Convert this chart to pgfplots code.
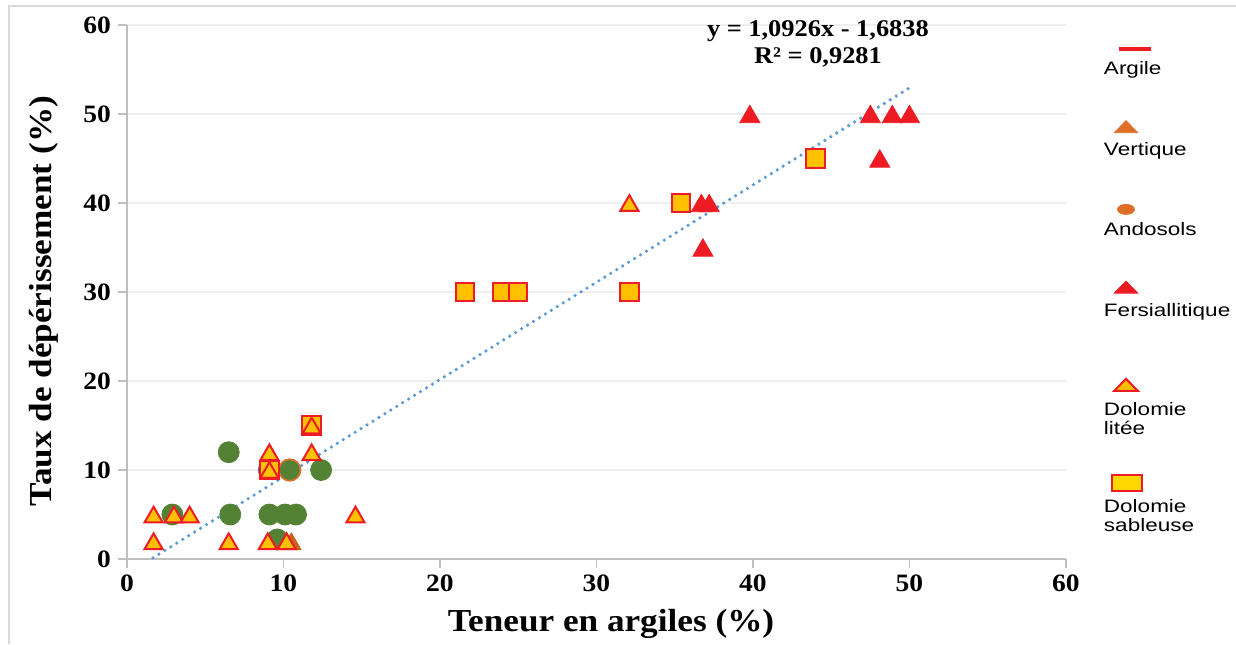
\documentclass[border=0pt]{standalone}
\usepackage{fontspec}
\setmainfont{Liberation Serif}[FakeStretch=1.1]
\newfontfamily\legfont{Liberation Sans}[FakeStretch=1.25]
\usepackage{pgfplots}
\pgfplotsset{compat=1.18}
\definecolor{redm}{RGB}{237,28,36}
\definecolor{gold}{RGB}{255,192,0}
\definecolor{goldleg}{RGB}{255,215,0}
\definecolor{greenm}{RGB}{84,130,53}
\definecolor{orangem}{RGB}{222,110,40}
\definecolor{brownm}{RGB}{197,100,30}
\definecolor{bluem}{RGB}{68,114,196}
\definecolor{trend}{RGB}{91,155,213}
\definecolor{axgray}{RGB}{191,191,191}
\definecolor{gridgray}{RGB}{238,238,238}
\definecolor{framegray}{RGB}{217,217,217}
\begin{document}
\begin{tikzpicture}
\begin{axis}[
 name=ax, scale only axis, width=469.5pt, height=267pt,
 xmin=0, xmax=60, ymin=0, ymax=60,
 xtick={0,10,...,60}, ytick={0,10,...,60},
 axis x line*=bottom, axis y line*=left,
 axis line style={axgray, line width=0.9pt},
 tick style={axgray, line width=0.9pt},
 tick align=outside, major tick length=4.5pt,
 ymajorgrids, grid style={gridgray, line width=0.7pt},
 /pgf/number format/assume math mode=true,
 tick label style={font=\fontsize{12.5}{14}\selectfont\bfseries},
 xlabel={Teneur en argiles (\%)}, ylabel={Taux de dépérissement (\%)},
 every axis x label/.style={at={(axis description cs:0.5155,0)}, yshift=-32.5pt, anchor=center, font=\fontsize{16}{18}\selectfont\bfseries},
 every axis y label/.style={at={(axis description cs:0,0.483)}, xshift=-41.5pt, rotate=90, anchor=center, font=\fontsize{16}{18}\selectfont\bfseries},
 clip=false,
 legend style={draw=none, fill=none, at={(1,1)}, anchor=north west, xshift=17pt, yshift=-17pt,
   inner sep=0pt, outer sep=0pt, row sep=32pt, column sep=0pt,
   cells={anchor=north west}, nodes={inner sep=0pt, outer sep=0pt},
   font=\legfont\fontsize{9}{9.5}\selectfont},
]
% ---- legend entries ----
\addlegendimage{redm, line width=2pt, legend image code/.code={\path (0pt,0pt); \draw[overlay] (8.5pt,6pt) -- (24.5pt,6pt);}}
\addlegendentry{\strut Argile}
\addlegendimage{only marks, mark=triangle*, mark size=4pt, color=orangem, mark options={xscale=1.7},
  legend image code/.code={\path (0pt,0pt); \draw[overlay] plot coordinates {(12pt,6.5pt)};}}
\addlegendentry{\strut Vertique}
\addlegendimage{only marks, mark=*, mark size=2.5pt, color=orangem, mark options={xscale=1.7},
  legend image code/.code={\path (0pt,0pt); \draw[overlay] plot coordinates {(12pt,6.5pt)};}}
\addlegendentry{\strut Andosols}
\addlegendimage{only marks, mark=triangle*, mark size=4pt, color=redm, mark options={xscale=1.7},
  legend image code/.code={\path (0pt,0pt); \draw[overlay] plot coordinates {(12pt,7pt)};}}
\addlegendentry{\strut Fersiallitique}
\addlegendimage{only marks, mark=triangle*, mark size=4pt, mark options={xscale=1.7, fill=gold, draw=redm, line width=1pt},
  legend image code/.code={\path (0pt,0pt); \draw[overlay] plot coordinates {(12pt,-1.5pt)};}}
\addlegendentry{\strut\raisebox{-9pt}[0pt][0pt]{\parbox[t]{75pt}{\strut Dolomie\\\strut litée}}}
\addlegendimage{only marks, mark=square*, mark size=4pt, mark options={xscale=1.9, fill=goldleg, draw=redm, line width=1pt},
  legend image code/.code={\path (0pt,0pt); \draw[overlay] plot coordinates {(12.5pt,-9.25pt)};}}
\addlegendentry{\strut\raisebox{-17.25pt}[0pt][0pt]{\parbox[t]{75pt}{\strut Dolomie\\\strut sableuse}}}
% ---- data ----
% Vertique
\addplot[only marks, mark=triangle*, mark size=5.6pt, color=brownm, mark options={yshift=-1.4pt}, forget plot] coordinates {(10.5,2)};
% Andosols (orange)
\addplot[only marks, mark=*, mark size=5.6pt, color=orangem, forget plot] coordinates {(10.4,10)};
% blue hidden point
\addplot[only marks, mark=*, mark size=4.8pt, color=bluem, forget plot] coordinates {(9.0,10)};
% green circles
\addplot[only marks, mark=*, mark size=5.25pt, color=greenm, forget plot] coordinates {
 (6.5,12) (2.9,5) (6.6,5) (9.1,5) (10.1,5) (10.8,5) (12.4,10) (9.6,2.2)};
\addplot[only marks, mark=*, mark size=4.7pt, color=greenm, forget plot] coordinates {(10.4,10)};
% Dolomie sableuse
\addplot[only marks, mark=square*, mark size=4.6pt, mark options={fill=gold, draw=redm, line width=1pt}, forget plot] coordinates {
 (21.6,30) (24.0,30) (25.0,30) (32.1,30) (35.4,40) (44.0,45) (11.8,15) (9.1,10)};
% Dolomie litee
\addplot[only marks, mark=triangle*, mark size=5.2pt, mark options={fill=gold, draw=redm, line width=1pt, yshift=-1.3pt}, forget plot] coordinates {
 (32.1,40) (1.7,5) (3.0,5) (4.0,5) (1.7,2) (6.5,2) (9.0,2) (10.2,2) (9.1,12) (9.1,10) (11.8,12) (11.8,15) (14.6,5)};
% Fersiallitique
\addplot[only marks, mark=triangle*, mark size=5.8pt, color=redm, mark options={yshift=-1.45pt}, forget plot] coordinates {
 (39.8,50) (47.5,50) (48.9,50) (50.0,50) (48.1,45) (36.8,35) (36.7,40) (37.2,40)};
% trend line
\addplot[trend, line width=1.8pt, dash pattern=on 0pt off 3.5pt, line cap=round, forget plot] coordinates {(1.66,0.13) (50,52.95)};
\node[align=center, font=\fontsize{12}{13.5}\selectfont\bfseries] at (axis cs:44.15,57.9) {y = 1,0926x - 1,6838\\R² = 0,9281};
\end{axis}
\draw[framegray, line width=1pt] (-59pt,-42.5pt) -- (-59pt,276.5pt) -- (554.5pt,276.5pt);
\pgfresetboundingbox
\path[use as bounding box] (-63.5pt,-42.5pt) rectangle (554.5pt,279.5pt);
\end{tikzpicture}
\end{document}
